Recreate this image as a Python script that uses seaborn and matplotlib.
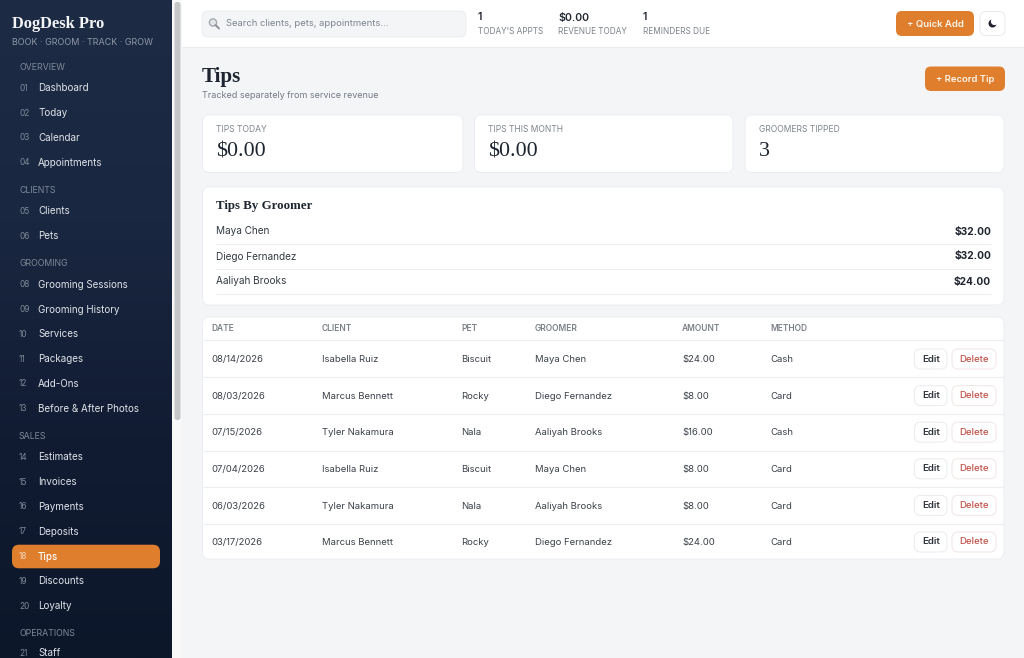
import matplotlib
matplotlib.use("Agg")
import matplotlib.pyplot as plt
from matplotlib.patches import FancyBboxPatch, Rectangle, Circle
import numpy as np
import seaborn as sns

# ---------- content ----------
nav_sections = ["OVERVIEW", "CLIENTS", "GROOMING", "SALES", "OPERATIONS"]
nav_overview = ["Dashboard", "Today", "Calendar", "Appointments"]
nav_clients = ["Clients", "Pets"]
nav_grooming = ["Grooming Sessions", "Grooming History", "Services", "Packages", "Add-Ons", "Before & After Photos"]
nav_sales = ["Estimates", "Invoices", "Payments", "Deposits", "Tips", "Discounts", "Loyalty"]
nav_operations = ["Staff"]
nav_numbers = [["01", "02", "03", "04"], ["05", "06"], ["08", "09", "10", "11", "12", "13"],
               ["14", "15", "16", "17", "18", "19", "20"], ["21"]]
top_values = ["1", "$0.00", "1"]
top_labels = ["TODAY'S APPTS", "REVENUE TODAY", "REMINDERS DUE"]
card_labels = ["TIPS TODAY", "TIPS THIS MONTH", "GROOMERS TIPPED"]
card_values = ["$0.00", "$0.00", "3"]
groomers = ["Maya Chen", "Diego Fernandez", "Aaliyah Brooks"]
groomer_tips = [32.00, 32.00, 24.00]
table_header = ["DATE", "CLIENT", "PET", "GROOMER", "AMOUNT", "METHOD"]
dates = ["08/14/2026", "08/03/2026", "07/15/2026", "07/04/2026", "06/03/2026", "03/17/2026"]
clients = ["Isabella Ruiz", "Marcus Bennett", "Tyler Nakamura", "Isabella Ruiz", "Tyler Nakamura", "Marcus Bennett"]
pets = ["Biscuit", "Rocky", "Nala", "Biscuit", "Nala", "Rocky"]
row_groomers = ["Maya Chen", "Diego Fernandez", "Aaliyah Brooks", "Maya Chen", "Aaliyah Brooks", "Diego Fernandez"]
amounts = [24.00, 8.00, 16.00, 8.00, 8.00, 24.00]
methods = ["Cash", "Card", "Cash", "Card", "Card", "Card"]

# ---------- theme ----------
sns.set_theme(style="white")
SANS = ["Inter", "DejaVu Sans"]
SERIF = ["Liberation Serif", "DejaVu Serif"]
plt.rcParams["font.family"] = SANS

ORANGE = "#df7f2e"
INK = "#1f2530"
MUTED = "#7d838c"
BODY = "#3c424b"
BORDER = "#eceef1"
PAGE = "#f3f5f7"

fig = plt.figure(figsize=(10.24, 6.58), dpi=100, facecolor=PAGE)
ax = fig.add_axes([0, 0, 1, 1])
ax.set_xlim(0, 1024)
ax.set_ylim(658, 0)
ax.axis("off")


def px(size):
    return size * 72 / 100


def text(x, y, s, size, color=BODY, weight="normal", ha="left", family=None):
    ax.text(x, y, s, fontsize=px(size), color=color, fontweight=weight, ha=ha, va="center",
            family=family or SANS, zorder=6)


def box(x0, y0, x1, y1, face="white", edge=BORDER, radius=7, lw=0.7, z=2):
    ax.add_patch(FancyBboxPatch((x0, y0), x1 - x0, y1 - y0, boxstyle=f"round,pad=0,rounding_size={radius}",
                                facecolor=face, edgecolor=edge, linewidth=lw, zorder=z))


def rule(x0, x1, y, color=BORDER, lw=0.8):
    ax.plot([x0, x1], [y, y], color=color, lw=lw, zorder=3, solid_capstyle="butt")


# ---------- sidebar ----------
SIDEBAR_W = 172
cmap = sns.blend_palette(["#1d2b44", "#1a2740", "#111c33", "#0c172a"], as_cmap=True)
ax.imshow(np.linspace(0, 1, 256).reshape(-1, 1), extent=(0, SIDEBAR_W, 658, 0), cmap=cmap,
          aspect="auto", zorder=1)
ax.set_xlim(0, 1024)
ax.set_ylim(658, 0)
ax.add_patch(Rectangle((SIDEBAR_W, 0), 10, 658, facecolor="#f8f8f8", edgecolor="none", zorder=1))
box(174.5, 2, 180.5, 420, face="#c4c6c7", edge="none", radius=2.5)

text(12, 24.5, "DogDesk Pro", 16.5, "#f4f5f7", "bold", family=SERIF)
text(12, 42.5, "BOOK · GROOM · TRACK · GROW", 9.0, "#8f98a8")

nav_groups = [nav_overview, nav_clients, nav_grooming, nav_sales, nav_operations]
ACTIVE = "Tips"
y = 67.5
for section, labels, numbers in zip(nav_sections, nav_groups, nav_numbers):
    text(19, y, section, 8.8, "#7f8999")
    y += 19.3 if labels is nav_operations else 20.8
    for number, label in zip(numbers, labels):
        if label == ACTIVE:
            box(12, y - 11.8, 160, y + 11.8, face=ORANGE, edge="none", radius=7)
        text(19, y, number, 8.3, "#f6d9bd" if label == ACTIVE else "#7f8999")
        text(38, y, label, 9.8, "#ffffff" if label == ACTIVE else "#dfe3ea",
             "medium" if label == ACTIVE else "normal")
        y += 24.8
    y += 3.0

# ---------- top bar ----------
ax.add_patch(Rectangle((182, 0), 842, 47, facecolor="white", edgecolor="none", zorder=1))
rule(182, 1024, 47, "#e9ebee")
box(202, 11, 466, 37, face=PAGE, edge="#eceef0", radius=6)
ax.add_patch(Circle((213, 22.5), 3.6, facecolor="#e4e7ea", edgecolor="#a4a8ad", lw=1, zorder=5))
ax.plot([215.5, 219], [25, 28.5], color="#8d9095", lw=1.4, zorder=5)
text(226, 24, "Search clients, pets, appointments...", 9.4, "#7f858d")

for x, value, label in zip([478, 558, 643], top_values, top_labels):
    text(x, 17.5, value, 10.6, INK, "semibold")
    text(x, 31, label, 8.2, MUTED)

box(896, 11, 974, 36, face=ORANGE, edge="none", radius=6)
text(935, 24, "+ Quick Add", 9.6, "#fff4ea", "semibold", ha="center")
box(980, 11.5, 1005, 35.5, face="white", edge="#e8eaed", radius=6)
ax.add_patch(Circle((992.5, 23.5), 4, facecolor="#20242c", edgecolor="none", zorder=5))
ax.add_patch(Circle((994.5, 21.5), 3.6, facecolor="white", edgecolor="none", zorder=5))

# ---------- title ----------
text(202, 77, "Tips", 21, INK, "bold", family=SERIF)
text(202, 95.5, "Tracked separately from service revenue", 9.0, "#747a83")
box(925, 66.5, 1005, 91, face=ORANGE, edge="none", radius=6)
text(965, 79.5, "+ Record Tip", 9.5, "#fff4ea", "semibold", ha="center")

# ---------- cards ----------
card_x = [(202.5, 463), (474.5, 733), (745, 1004)]
for (x0, x1), label, value in zip(card_x, card_labels, card_values):
    box(x0, 115, x1, 172.5)
    text(x0 + 14, 130, label, 8.5, "#7f858d")
    text(x0 + 13.5, 151.5, value, 22, INK, family=SERIF)

# ---------- groomer panel ----------
box(202.5, 187, 1004, 305)
text(216, 205.5, "Tips By Groomer", 12.9, INK, "bold", family=SERIF)
for i, (name, tip) in enumerate(zip(groomers, groomer_tips)):
    row_y = 231.5 + i * 25
    text(216, row_y, name, 10.0, "#343a44")
    text(991, row_y, f"${tip:.2f}", 10.2, INK, "bold", ha="right")
    rule(216, 991, row_y + 12, "#eceef1")

# ---------- table ----------
box(202.5, 317, 1004, 559)
columns = [211, 322, 461, 535, 682, 770]
for x, head in zip(columns, table_header):
    text(x, 328.5, head, 8.4, "#7b8088", "semibold")
rule(203, 1004, 340, "#eceef1")
for i, row in enumerate(zip(dates, clients, pets, row_groomers, amounts, methods)):
    row_y = 359 + i * 36.6
    cells = list(row)
    cells[4] = f"${row[4]:.2f}"
    for x, cell in zip(columns, cells):
        text(x, row_y + 0.7, cell, 9.5, "#3b4049")
    box(914.5, row_y - 10, 947, row_y + 10, face="white", edge="#e9ebee", radius=6)
    text(930.8, row_y, "Edit", 9.6, "#30353d", "semibold", ha="center")
    box(952, row_y - 10, 996, row_y + 10, face="white", edge="#f0e6e4", radius=6)
    text(974, row_y, "Delete", 9.6, "#c0524a", "medium", ha="center")
    if i < len(dates) - 1:
        rule(203, 1004, row_y + 18.3, "#eceef1")

fig.savefig("out.png", dpi=100, facecolor=PAGE)
